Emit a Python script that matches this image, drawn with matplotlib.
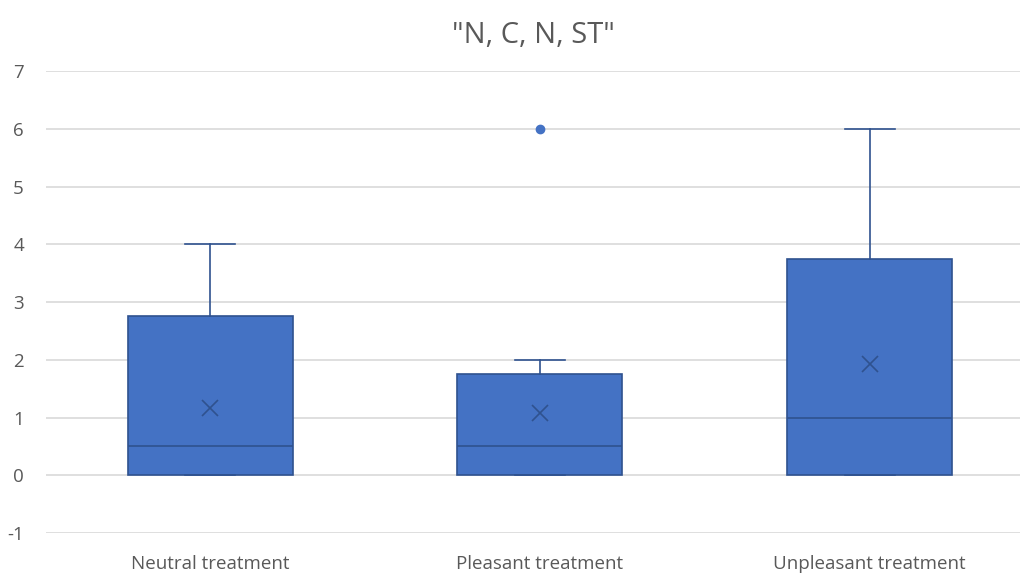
import matplotlib.pyplot as plt
import numpy as np

plt.rcParams['font.family'] = ['Open Sans', 'DejaVu Sans']
plt.rcParams['axes.unicode_minus'] = False

groups = ['Neutral treatment', 'Pleasant treatment', 'Unpleasant treatment']
q1 = [0, 0, 0]
medians = [0.5, 0.5, 1]
q3 = [2.75, 1.75, 3.75]
lows = [0, 0, 0]
highs = [4, 2, 6]
means = [1.17, 1.08, 1.92]
outliers = [[], [6], []]

fill = '#4472C4'
edge = '#2F528F'
text_col = '#595959'

stats = []
for i, name in enumerate(groups):
    stats.append(dict(label=name, q1=q1[i], med=medians[i], q3=q3[i],
                      whislo=lows[i], whishi=highs[i], mean=means[i],
                      fliers=outliers[i]))

fig = plt.figure(figsize=(10.25, 5.74), dpi=100)
ax = fig.add_axes([0.045, 0.0714, 0.95, 0.8049])

pos = np.arange(len(groups))
ax.bxp(stats, positions=pos, widths=0.5, capwidths=0.15, patch_artist=True,
       showmeans=True, showfliers=True,
       boxprops=dict(facecolor=fill, edgecolor=edge, linewidth=1.2),
       medianprops=dict(color=edge, linewidth=1.2),
       whiskerprops=dict(color=edge, linewidth=1.2),
       capprops=dict(color=edge, linewidth=1.2),
       meanprops=dict(marker='x', markeredgecolor=edge, markersize=11,
                      markeredgewidth=1.2),
       flierprops=dict(marker='o', markerfacecolor=fill, markeredgecolor=fill,
                       markersize=6))

ax.set_xlim(-0.497, 2.455)
ax.set_ylim(-1, 7)
ax.set_yticks(range(-1, 8))
ax.yaxis.grid(True, color='#D9D9D9', linewidth=1.2)
ax.set_axisbelow(True)
for s in ax.spines.values():
    s.set_visible(False)
ax.tick_params(length=0, labelsize=13.5, colors=text_col)
ax.tick_params(axis='y', pad=16)
ax.tick_params(axis='x', pad=16)
ax.set_xticks(pos)
ax.set_xticklabels(groups)

ax.set_title('"N, C, N, ST"', fontsize=21, color=text_col, pad=20)

fig.savefig('out.png', dpi=100)
